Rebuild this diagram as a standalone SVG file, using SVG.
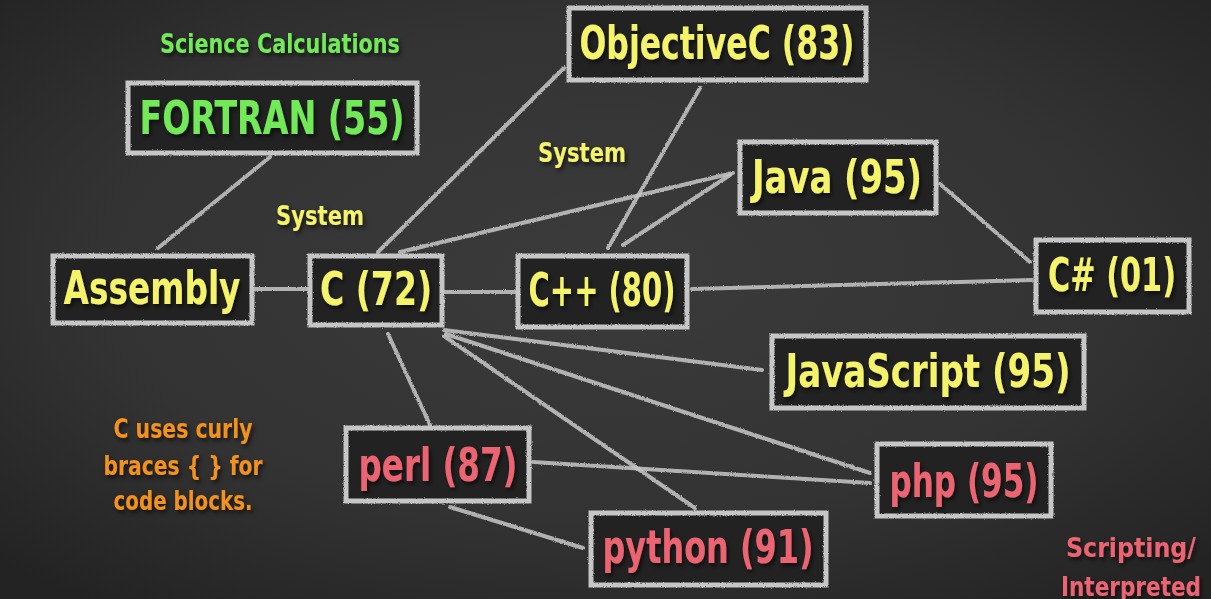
<svg xmlns="http://www.w3.org/2000/svg" width="1211" height="599" viewBox="0 0 1211 599">
<defs>
<radialGradient id="bg" cx="50%" cy="45%" r="70%">
<stop offset="0" stop-color="#3b3b3b"/>
<stop offset="0.6" stop-color="#333333"/>
<stop offset="1" stop-color="#232323"/>
</radialGradient>
<filter id="chalk" x="-5%" y="-5%" width="110%" height="110%">
<feTurbulence type="fractalNoise" baseFrequency="0.9" numOctaves="2" seed="3" result="n"/>
<feDisplacementMap in="SourceGraphic" in2="n" scale="2.5" xChannelSelector="R" yChannelSelector="G"/>
</filter>
<filter id="shadow" x="-10%" y="-10%" width="130%" height="140%">
<feDropShadow dx="2" dy="3" stdDeviation="2" flood-color="#000" flood-opacity="0.6"/>
</filter>
</defs>
<style>
.box{fill:#242424;stroke:#c6c6c6;stroke-width:5}
.lbl{font-family:"DejaVu Sans Condensed","DejaVu Sans",sans-serif;font-weight:bold;text-anchor:middle;filter:url(#shadow)}
.big{font-size:47px}
.small{font-size:27px}
.y{fill:#f4f36a}
.g{fill:#72ea58}
.r{fill:#ec6472}
.o{fill:#f2921e}
.conn line{stroke:#c8c8c8;stroke-width:4;stroke-linecap:round;opacity:0.85}
</style>
<rect width="1211" height="599" fill="url(#bg)"/>

<g id="connectors" class="conn" filter="url(#chalk)">
<line x1="270" y1="157" x2="158" y2="248"/>
<line x1="253" y1="289" x2="309" y2="289"/>
<line x1="378" y1="252" x2="564" y2="68"/>
<line x1="400" y1="252" x2="733" y2="173"/>
<line x1="443" y1="292" x2="515" y2="292"/>
<line x1="608" y1="248" x2="700" y2="88"/>
<line x1="623" y1="245" x2="730" y2="175"/>
<line x1="940" y1="184" x2="1030" y2="262"/>
<line x1="692" y1="289" x2="1032" y2="280"/>
<line x1="444" y1="330" x2="762" y2="370"/>
<line x1="446" y1="334" x2="870" y2="473"/>
<line x1="444" y1="336" x2="695" y2="508"/>
<line x1="388" y1="334" x2="430" y2="425"/>
<line x1="533" y1="462" x2="870" y2="483"/>
<line x1="450" y1="507" x2="583" y2="548"/>
</g>

<text class="lbl small g" x="280" y="53" textLength="240" lengthAdjust="spacingAndGlyphs">Science Calculations</text>
<text class="lbl small y" x="320" y="225" textLength="88" lengthAdjust="spacingAndGlyphs">System</text>
<text class="lbl small y" x="582" y="162" textLength="88" lengthAdjust="spacingAndGlyphs">System</text>
<text class="lbl small o" x="183" y="438" textLength="139" lengthAdjust="spacingAndGlyphs">C uses curly</text>
<text class="lbl small o" x="183" y="475" textLength="159" lengthAdjust="spacingAndGlyphs">braces { } for</text>
<text class="lbl small o" x="183" y="510" textLength="139" lengthAdjust="spacingAndGlyphs">code blocks.</text>
<text class="lbl small r" x="1131" y="557" textLength="130" lengthAdjust="spacingAndGlyphs">Scripting/</text>
<text class="lbl small r" x="1131" y="596" textLength="140" lengthAdjust="spacingAndGlyphs">Interpreted</text>

<g id="fortran">
<rect class="box" x="128" y="83" width="289" height="70" filter="url(#chalk)"/>
<text class="lbl big g" x="272" y="134" textLength="265" lengthAdjust="spacingAndGlyphs">FORTRAN (55)</text>
</g>
<g id="assembly">
<rect class="box" x="53" y="256" width="199" height="67" filter="url(#chalk)"/>
<text class="lbl big y" x="152" y="304" textLength="177" lengthAdjust="spacingAndGlyphs">Assembly</text>
</g>
<g id="c">
<rect class="box" x="310" y="256" width="132" height="69" filter="url(#chalk)"/>
<text class="lbl big y" x="376" y="305" textLength="112" lengthAdjust="spacingAndGlyphs">C (72)</text>
</g>
<g id="objectivec">
<rect class="box" x="569" y="8" width="297" height="72" filter="url(#chalk)"/>
<text class="lbl big y" x="717" y="59" textLength="275" lengthAdjust="spacingAndGlyphs">ObjectiveC (83)</text>
</g>
<g id="java">
<rect class="box" x="740" y="142" width="196" height="71" filter="url(#chalk)"/>
<text class="lbl big y" x="837" y="193" textLength="170" lengthAdjust="spacingAndGlyphs">Java (95)</text>
</g>
<g id="cpp">
<rect class="box" x="518" y="256" width="169" height="71" filter="url(#chalk)"/>
<text class="lbl big y" x="602" y="306" textLength="147" lengthAdjust="spacingAndGlyphs">C++ (80)</text>
</g>
<g id="csharp">
<rect class="box" x="1036" y="240" width="153" height="72" filter="url(#chalk)"/>
<text class="lbl big y" x="1112" y="291" textLength="128" lengthAdjust="spacingAndGlyphs">C# (01)</text>
</g>
<g id="javascript">
<rect class="box" x="772" y="336" width="312" height="72" filter="url(#chalk)"/>
<text class="lbl big y" x="928" y="387" textLength="285" lengthAdjust="spacingAndGlyphs">JavaScript (95)</text>
</g>
<g id="perl">
<rect class="box" x="346" y="428" width="183" height="73" filter="url(#chalk)"/>
<text class="lbl big r" x="438" y="481" textLength="159" lengthAdjust="spacingAndGlyphs">perl (87)</text>
</g>
<g id="php">
<rect class="box" x="877" y="444" width="174" height="72" filter="url(#chalk)"/>
<text class="lbl big r" x="964" y="497" textLength="149" lengthAdjust="spacingAndGlyphs">php (95)</text>
</g>
<g id="python">
<rect class="box" x="591" y="513" width="235" height="72" filter="url(#chalk)"/>
<text class="lbl big r" x="708" y="563" textLength="211" lengthAdjust="spacingAndGlyphs">python (91)</text>
</g>
</svg>
